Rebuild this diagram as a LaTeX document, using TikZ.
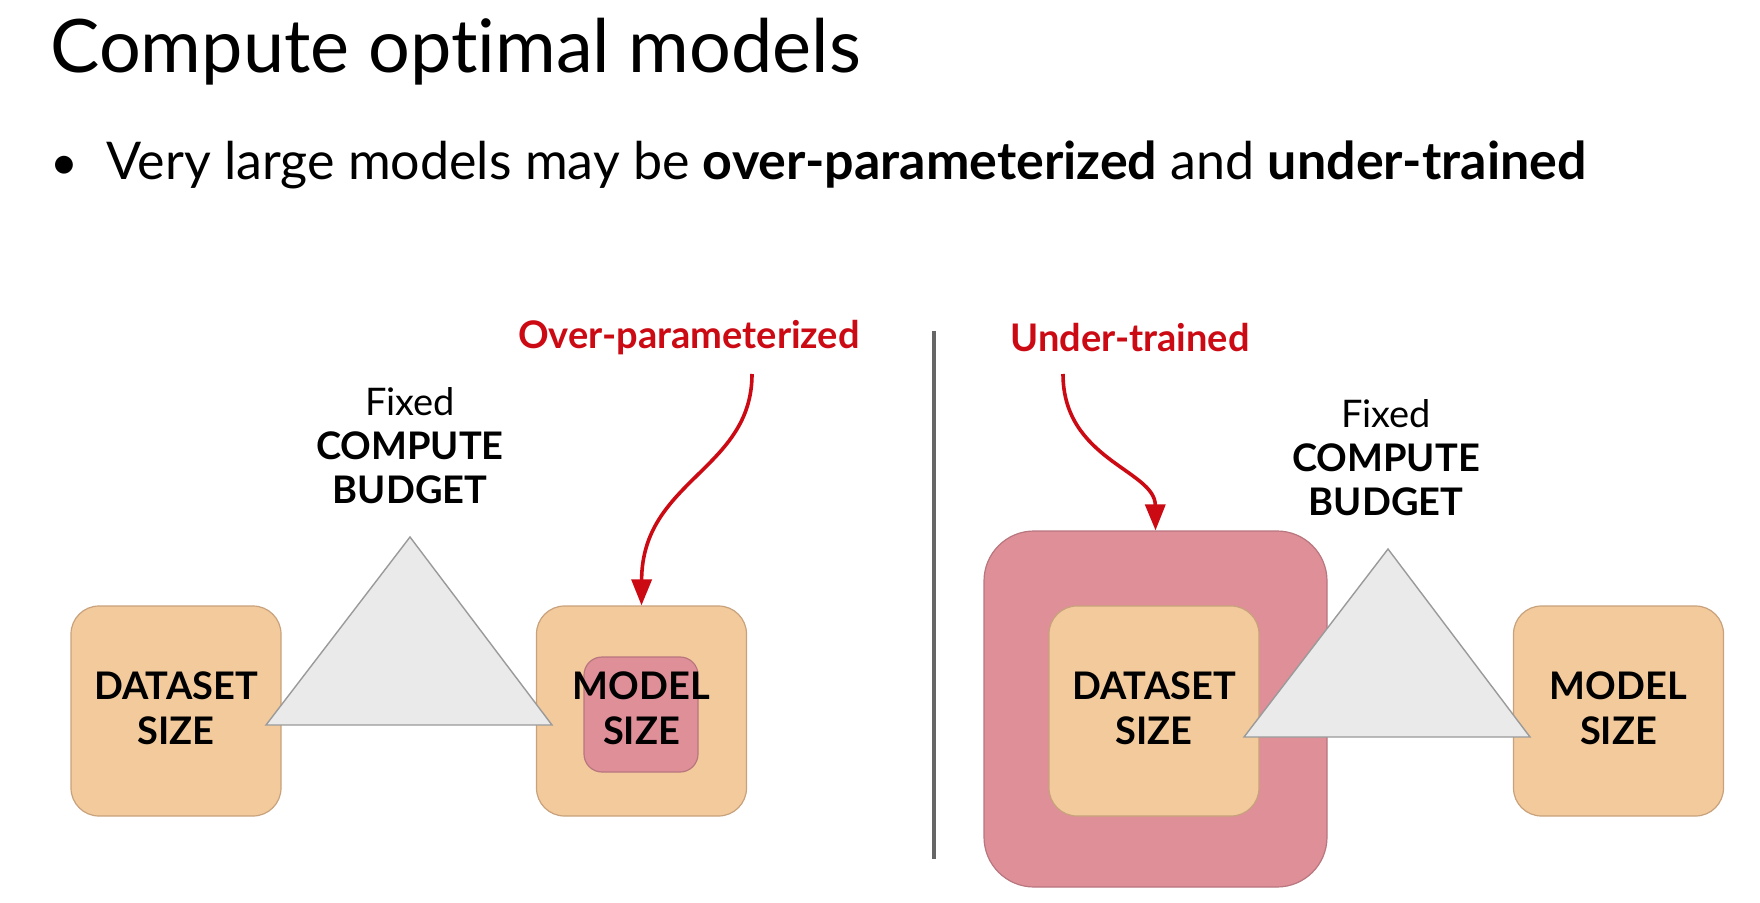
\documentclass[tikz,border=0pt]{standalone}
\usepackage{fontspec}
\setmainfont{Lato}[Ligatures=NoCommon]
\usetikzlibrary{arrows.meta}
\definecolor{peach}{HTML}{F3CA9C}
\definecolor{peachline}{HTML}{C8A27C}
\definecolor{rose}{HTML}{DF8F98}
\definecolor{roseline}{HTML}{B8767E}
\definecolor{trifill}{HTML}{EAEAEA}
\definecolor{triline}{HTML}{9A9A9A}
\definecolor{alert}{HTML}{CC0A14}
\tikzset{
  sizebox/.style={draw=peachline, line width=0.6pt, fill=peach, rounded corners=14pt,
    minimum width=105pt, minimum height=105pt, inner sep=0pt},
  roseouter/.style={draw=roseline, line width=0.6pt, fill=rose, rounded corners=25pt,
    minimum width=171.5pt, minimum height=178pt, inner sep=0pt},
  roseinner/.style={draw=roseline, line width=0.6pt, fill=rose, rounded corners=9pt,
    minimum width=57pt, minimum height=57.5pt, inner sep=0pt},
  boxtext/.style={font=\fontsize{19}{22.5}\selectfont\bfseries, align=center, text=black},
  budget/.style={font=\fontsize{19}{22}\selectfont, align=center, text=black},
  budgettri/.style={draw=triline, line width=0.7pt, fill=trifill, line join=miter},
  redlabel/.style={font=\fontsize{19}{22}\selectfont\bfseries, text=alert},
  redarrow/.style={draw=alert, line width=1.8pt, -{Triangle[length=13pt,width=10pt]}},
  divider/.style={draw=black!60, line width=1.8pt},
}
\begin{document}
\begin{tikzpicture}[x=0.5pt, y=-0.5pt]
  \useasboundingbox[fill=white] (0,0) rectangle (1760,903);

  % heading and bullet
  \node[anchor=base west, inner sep=0pt, font=\fontsize{36.9}{42}\selectfont] (title)
    at (50,73) {Compute optimal models};
  \node[anchor=base, inner sep=0pt, font=\fontsize{24}{30}\selectfont] (dot)
    at (64,180) {•};
  \node[anchor=base west, inner sep=0pt, font=\fontsize{26}{30}\selectfont] (claim)
    at (106,180) {Very large models may be \textbf{over-parameterized} and \textbf{under-trained}};

  % left panel: over-parameterized model
  \node[sizebox] (ldata) at (176,711) {};
  \node[sizebox] (lmodel) at (641.5,711) {};
  \node[roseinner] (lmodelin) at (641,714.5) {};
  \draw[budgettri] (410,537) -- (552,725) -- (266,725) -- cycle;
  \node[boxtext] (ldatatext) at (176,708) {DATASET\\SIZE};
  \node[boxtext] (lmodeltext) at (641.5,708) {MODEL\\SIZE};
  \node[budget] (lbudget) at (410,446) {Fixed\\\textbf{COMPUTE}\\\textbf{BUDGET}};
  \node[redlabel] (over) at (689,338) {Over-parameterized};
  \coordinate (overtail) at (752,374);
  \draw[redarrow] (overtail) .. controls (752,470) and (642,480) .. (lmodel.north);

  % divider
  \coordinate (divtop) at (934,331);
  \coordinate (divbot) at (934,859);
  \draw[divider] (divtop) -- (divbot);

  % right panel: under-trained dataset
  \node[roseouter] (rdataout) at (1155.5,709) {};
  \node[sizebox] (rdata) at (1154,711) {};
  \node[sizebox] (rmodel) at (1618.5,711) {};
  \draw[budgettri] (1388,549) -- (1530,737) -- (1244,737) -- cycle;
  \node[boxtext] (rdatatext) at (1154,708) {DATASET\\SIZE};
  \node[boxtext] (rmodeltext) at (1618.5,708) {MODEL\\SIZE};
  \node[budget] (rbudget) at (1386,458) {Fixed\\\textbf{COMPUTE}\\\textbf{BUDGET}};
  \node[redlabel] (under) at (1130,338) {Under-trained};
  \coordinate (undertail) at (1063,374);
  \draw[redarrow] (undertail) .. controls (1063,460) and (1155,470) .. (rdataout.north);
\end{tikzpicture}
\end{document}
